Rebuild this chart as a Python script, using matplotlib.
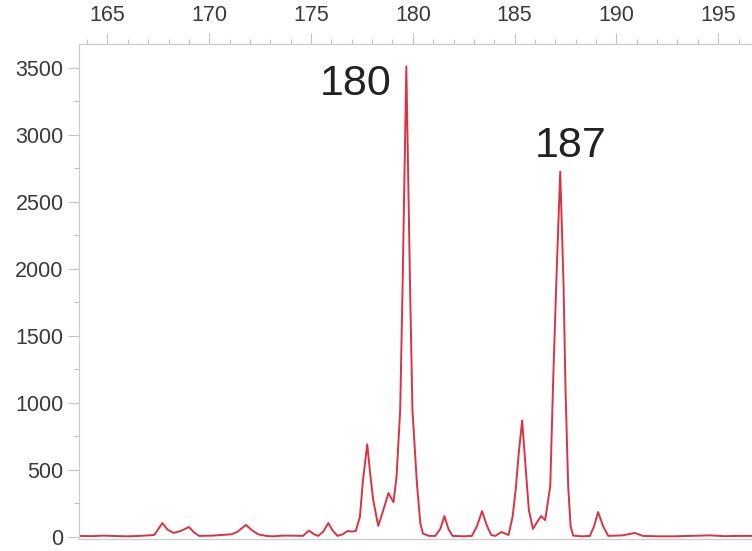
import matplotlib
matplotlib.use('Agg')
import matplotlib.pyplot as plt
from matplotlib.ticker import MultipleLocator

plt.rcParams['font.family'] = ['Liberation Sans', 'DejaVu Sans']

# trace (size in bp, signal)
size = [163.6, 164.2, 164.8, 165.4, 166.0, 166.6, 167.0, 167.3, 167.5, 167.7,
        167.95, 168.25, 168.6, 169.0, 169.25, 169.5, 170.15, 170.6, 171.1, 171.4,
        171.8, 172.1, 172.4, 172.8, 173.15, 173.6, 174.0, 174.6, 174.9, 175.15,
        175.35, 175.6, 175.85, 176.05, 176.3, 176.55, 176.8, 177.0, 177.2, 177.4,
        177.55, 177.76, 177.9, 178.05, 178.3, 178.55, 178.8, 179.05, 179.2, 179.38,
        179.5, 179.68, 179.86, 179.98, 180.2, 180.37, 180.5, 180.8, 181.1, 181.35,
        181.55, 181.75, 181.95, 182.5, 182.9, 183.15, 183.4, 183.65, 183.85, 184.05,
        184.35, 184.7, 184.9, 185.05, 185.2, 185.37, 185.55, 185.7, 185.9, 186.1,
        186.3, 186.5, 186.75, 186.9, 187.07, 187.24, 187.4, 187.5, 187.63, 187.75,
        187.88, 188.3, 188.7, 188.9, 189.1, 189.35, 189.6, 190.3, 190.9, 191.3,
        192.0, 192.8, 193.6, 194.6, 195.3, 196.0, 196.7]
signal = [8, 6, 10, 7, 5, 8, 12, 15, 60, 104,
          55, 30, 45, 74, 35, 8, 10, 15, 20, 40,
          90, 50, 20, 8, 5, 10, 10, 8, 48, 20,
          8, 40, 104, 50, 8, 20, 45, 40, 45, 150,
          420, 691, 480, 280, 82, 200, 327, 260, 450, 950,
          1900, 3510, 1900, 950, 400, 100, 25, 8, 8, 60,
          156, 60, 8, 5, 8, 80, 193, 80, 15, 8,
          37, 15, 150, 350, 620, 870, 500, 200, 60, 110,
          156, 126, 380, 1200, 2000, 2725, 1900, 1100, 380, 80,
          10, 5, 8, 80, 186, 80, 8, 12, 30, 8,
          5, 5, 8, 12, 6, 8, 8]

peak_labels = ['180', '187']
peak_label_x = [177.2, 187.75]
peak_label_y = [3380, 2920]

fig = plt.figure(figsize=(7.52, 5.51), dpi=100)
ax = fig.add_axes([0.105, 0.0218, 0.895, 0.899])

ax.plot(size, signal, color='#dc3242', lw=1.4)

for lab, lx, ly in zip(peak_labels, peak_label_x, peak_label_y):
    ax.text(lx, ly, lab, fontsize=31, color='#222222', ha='center', va='center')

ax.set_xlim(163.6, 196.66)
ax.set_ylim(-15, 3680)

ax.xaxis.tick_top()
ax.xaxis.set_major_locator(MultipleLocator(5))
ax.xaxis.set_minor_locator(MultipleLocator(1))
ax.yaxis.set_major_locator(MultipleLocator(500))
ax.yaxis.set_minor_locator(MultipleLocator(250))

ax.tick_params(axis='both', which='major', labelsize=15.5, labelcolor='#3a3a3a',
               color='#c4c4c4', length=8, width=0.8)
ax.tick_params(axis='both', which='minor', color='#c4c4c4', length=3.5, width=0.8)
ax.tick_params(axis='x', pad=5)
ax.tick_params(axis='y', pad=3)

for side in ['left', 'top', 'bottom']:
    ax.spines[side].set_color('#cccccc')
    ax.spines[side].set_linewidth(0.9)
ax.spines['right'].set_visible(False)

fig.savefig('out.png', dpi=100)
